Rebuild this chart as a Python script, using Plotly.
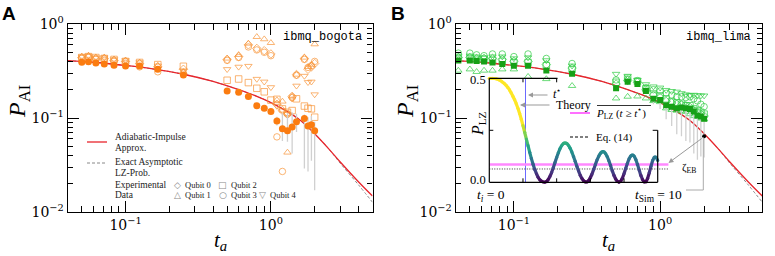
import plotly.graph_objects as go
from plotly.colors import sample_colorscale
import math

W, H = 775, 256

# ---------------- data ----------------
ta_theory = [0.04, 0.06, 0.1, 0.15, 0.25, 0.4, 0.6, 0.8, 1.0, 1.3, 1.6, 2.0, 2.5, 3.0, 4.0, 5.0]
P_AI_theory = [0.407, 0.392, 0.362, 0.335, 0.292, 0.245, 0.200, 0.170, 0.146, 0.117, 0.094, 0.068, 0.047, 0.034, 0.021, 0.0148]
P_LZ_exact = [0.407, 0.392, 0.362, 0.335, 0.292, 0.245, 0.200, 0.170, 0.146, 0.117, 0.094, 0.068, 0.047, 0.033, 0.0195, 0.0127]

ta_A = [0.05, 0.0556, 0.0625, 0.0714, 0.0833, 0.1, 0.125, 0.1667, 0.25,
        0.5, 0.6, 0.7, 0.8, 0.9, 1.0, 1.1, 1.2, 1.3, 1.4, 1.5, 1.7, 1.8, 1.9, 2.0]
A_mean = [0.391, 0.397, 0.385, 0.375, 0.363, 0.357, 0.357, 0.330, 0.287,
          0.194, 0.188, 0.169, 0.135, 0.127, 0.117, 0.093, 0.077, 0.073, 0.080, 0.091, 0.099, 0.082, 0.085, 0.073]
A_err_up = [0, 0, 0, 0, 0, 0, 0, 0, 0,
            0, 0, 0, 0, 0, 0, 0.01, 0.035, 0.04, 0.035, 0.02, 0.01, 0.02, 0.02, 0.018]
A_err_dn = [0, 0, 0, 0, 0, 0, 0, 0, 0,
            0, 0, 0, 0, 0, 0, 0.01, 0.02, 0.017, 0.038, 0.02, 0.07, 0.055, 0.05, 0.056]
A_q0 = [0.44, 0.45, 0.43, 0.43, 0.41, 0.40, 0.38, 0.35, 0.33,
        0.42, 0.45, 0.60, 0.55, 0.52, 0.48, 0.14, 0.12, 0.11, 0.17, 0.29, 0.43, 0.33, 0.35, 0.38]
A_q1 = [0.45, 0.46, 0.44, 0.44, 0.42, 0.41, 0.39, 0.36, 0.31,
        0.43, 0.47, 0.62, 0.73, 0.69, 0.63, 0.155, 0.15, 0.043, 0.17, 0.29, 0.44, 0.35, 0.37, 0.61]
A_q2 = [0.44, 0.45, 0.44, 0.43, 0.42, 0.40, 0.39, 0.37, 0.355,
        0.252, 0.26, 0.238, 0.207, 0.19, 0.155, 0.158, 0.125, 0.115, 0.12, 0.16, 0.134, 0.127, 0.125, 0.102]
A_q3 = [0.43, 0.44, 0.42, 0.41, 0.40, 0.38, 0.35, 0.31, 0.30,
        0.41, 0.44, 0.57, 0.53, 0.50, 0.46, 0.063, 0.027, 0.11, 0.165, 0.285, 0.42, 0.345, 0.36, 0.40]
A_q4 = [0.45, 0.46, 0.44, 0.44, 0.42, 0.41, 0.39, 0.36, 0.32,
        0.33, 0.35, 0.357, 0.26, 0.243, 0.212, 0.134, 0.12, 0.11, 0.16, 0.22, 0.28, 0.24, 0.243, 0.178]

ta_B = [0.0417, 0.05, 0.0556, 0.0625, 0.0714, 0.0833, 0.1, 0.125, 0.1667, 0.25,
        0.5, 0.6, 0.7, 0.8, 0.9, 1.0, 1.1, 1.2, 1.3, 1.4, 1.5, 1.6, 1.7, 1.8, 1.9, 2.0]
B_mean = [0.41, 0.41, 0.405, 0.40, 0.39, 0.375, 0.36, 0.36, 0.32, 0.295,
          0.207, 0.243, 0.23, 0.194, 0.16, 0.155, 0.137, 0.132, 0.127, 0.129, 0.127, 0.125, 0.117, 0.106, 0.104, 0.098]
B_err_up = [0, 0, 0, 0, 0, 0, 0, 0, 0, 0,
            0, 0, 0, 0, 0.01, 0.01, 0.01, 0.01, 0.01, 0.01, 0.01, 0.01, 0.01, 0.01, 0.01, 0.01]
B_err_dn = [0, 0, 0, 0, 0, 0, 0, 0, 0, 0,
            0, 0, 0, 0, 0.02, 0.03, 0.04, 0.05, 0.06, 0.065, 0.07, 0.07, 0.075, 0.07, 0.065, 0.06]
B_q0 = [0.44, 0.44, 0.43, 0.43, 0.43, 0.42, 0.40, 0.40, 0.37, 0.34,
        0.23, 0.25, 0.24, 0.2, 0.175, 0.165, 0.15, 0.145, 0.14, 0.138, 0.135, 0.13, 0.12, 0.115, 0.11, 0.105]
B_q1 = [0.32, 0.33, 0.31, 0.32, 0.32, 0.33, 0.33, 0.275, 0.26, 0.22,
        0.162, 0.169, 0.17, 0.162, 0.152, 0.148, 0.127, 0.122, 0.12, 0.118, 0.117, 0.11, 0.105, 0.103, 0.099, 0.097]
B_q2 = [0.43, 0.43, 0.42, 0.42, 0.41, 0.40, 0.39, 0.39, 0.36, 0.33,
        0.24, 0.265, 0.245, 0.205, 0.18, 0.172, 0.16, 0.15, 0.145, 0.14, 0.135, 0.135, 0.125, 0.12, 0.115, 0.11]
B_q3 = [0.49, 0.49, 0.47, 0.46, 0.48, 0.48, 0.45, 0.48, 0.43, 0.38,
        0.254, 0.258, 0.25, 0.21, 0.2, 0.194, 0.183, 0.175, 0.168, 0.168, 0.165, 0.168, 0.16, 0.152, 0.14, 0.132]
B_q4 = [0.46, 0.46, 0.45, 0.44, 0.45, 0.45, 0.43, 0.44, 0.41, 0.36,
        0.294, 0.28, 0.254, 0.228, 0.216, 0.21, 0.198, 0.193, 0.19, 0.183, 0.178, 0.175, 0.176, 0.174, 0.173, 0.173]

marked_ta = [2.0]
marked_P = [0.064]

# inset: simulated LZ probability vs time
t_sim = [0.0, 0.1, 0.2, 0.3, 0.4, 0.5, 0.6, 0.7, 0.8, 0.9,
         1.0, 1.1, 1.2, 1.3, 1.4, 1.5, 1.6, 1.7, 1.8, 1.9,
         2.0, 2.1, 2.2, 2.3, 2.4, 2.5, 2.6, 2.7, 2.8, 2.9,
         3.0, 3.1, 3.2, 3.3, 3.4, 3.5, 3.6, 3.7, 3.8, 3.9,
         4.0, 4.1, 4.2, 4.3, 4.4, 4.5, 4.6, 4.7, 4.8, 4.9,
         5.0, 5.1, 5.2, 5.3, 5.4, 5.5, 5.6, 5.7, 5.8, 5.9,
         6.0, 6.1, 6.2, 6.3, 6.4, 6.5, 6.6, 6.7, 6.8, 6.9,
         7.0, 7.1, 7.2, 7.3, 7.4, 7.5, 7.6, 7.7, 7.8, 7.9,
         8.0, 8.1, 8.2, 8.3, 8.4, 8.5, 8.6, 8.7, 8.8, 8.9,
         9.0, 9.1, 9.2, 9.3, 9.4, 9.5, 9.6, 9.7, 9.8, 9.9, 10.0]
P_sim = [0.500, 0.500, 0.500, 0.499, 0.498, 0.496, 0.492, 0.487, 0.481, 0.474,
         0.466, 0.456, 0.444, 0.430, 0.414, 0.397, 0.378, 0.356, 0.331, 0.303,
         0.273, 0.241, 0.208, 0.176, 0.144, 0.114, 0.087, 0.062, 0.041, 0.024,
         0.012, 0.005, 0.001, 0.000, 0.003, 0.013, 0.028, 0.047, 0.070, 0.095,
         0.119, 0.142, 0.162, 0.177, 0.187, 0.190, 0.187, 0.178, 0.164, 0.146,
         0.124, 0.101, 0.077, 0.055, 0.034, 0.018, 0.007, 0.001, 0.001, 0.008,
         0.022, 0.040, 0.062, 0.086, 0.108, 0.126, 0.140, 0.147, 0.147, 0.139,
         0.124, 0.104, 0.081, 0.056, 0.034, 0.016, 0.004, 0.000, 0.005, 0.019,
         0.041, 0.066, 0.091, 0.113, 0.127, 0.132, 0.126, 0.110, 0.086, 0.059,
         0.033, 0.013, 0.001, 0.002, 0.018, 0.046, 0.077, 0.105, 0.121, 0.121, 0.105]
t_star = 2.15
P_mean_after_tstar = 0.085
P_eq14 = 0.064
t_line_end = 10.65

# ---------------- helpers (layout positions in pixels) ----------------
def px(x):
    return x / W

def py(y):
    return 1 - y / H

ORANGE = "#fb7c10"
ORANGE_L = "rgba(248,150,60,0.8)"
GREEN = "#16a016"
GREEN_L = "rgba(50,205,70,0.8)"
RED = "#e8252c"
SERIF = "Liberation Serif"
TICKF = "DejaVu Serif"

fig = go.Figure()

def add_panel(xa, ya, ta, mean, eu, ed, qs, c_fill, c_light, fill_symbol):
    fig.add_trace(go.Scatter(x=ta_theory, y=P_LZ_exact, mode="lines",
                             line=dict(color="#888", width=1, dash="3px,2px", shape="spline"),
                             xaxis=xa, yaxis=ya, showlegend=False))
    fig.add_trace(go.Scatter(x=ta_theory, y=P_AI_theory, mode="lines", line=dict(color=RED, width=1.3, shape="spline"),
                             xaxis=xa, yaxis=ya, showlegend=False))
    symbols = ["diamond-open", "triangle-up-open", "square-open", "circle-open", "triangle-down-open"]
    for q, s in zip(qs, symbols):
        fig.add_trace(go.Scatter(x=ta, y=q, mode="markers",
                                 marker=dict(symbol=s, size=6.5, color=c_light, line=dict(width=0.9, color=c_light)),
                                 xaxis=xa, yaxis=ya, showlegend=False))
    fig.add_trace(go.Scatter(x=ta, y=mean, mode="markers",
                             marker=dict(symbol=fill_symbol, size=7 if fill_symbol == "circle" else 6, color=c_fill),
                             error_y=dict(type="data", array=eu, arrayminus=ed, color="#d0d0d0", thickness=1.3, width=0),
                             xaxis=xa, yaxis=ya, showlegend=False))

add_panel("x", "y", ta_A, A_mean, A_err_up, A_err_dn, [A_q0, A_q1, A_q2, A_q3, A_q4], ORANGE, ORANGE_L, "circle")

# inset traces (x2/y2)
fig.add_trace(go.Scatter(x=[t_star, t_star], y=[0, 0.5], mode="lines", line=dict(color="#6a6aff", width=1),
                         xaxis="x2", yaxis="y2", showlegend=False))
fig.add_trace(go.Scatter(x=[0, t_line_end], y=[P_mean_after_tstar, P_mean_after_tstar], mode="lines",
                         line=dict(color="#ff88ff", width=2.5), xaxis="x2", yaxis="y2", showlegend=False))
fig.add_trace(go.Scatter(x=[0, t_line_end], y=[P_eq14, P_eq14], mode="lines",
                         line=dict(color="#333", width=1, dash="1px,1.5px"), xaxis="x2", yaxis="y2", showlegend=False))
cols = sample_colorscale("Viridis", [min(max(v / 0.3, 0), 1) for v in P_sim])
for i in range(len(t_sim) - 1):
    fig.add_trace(go.Scatter(x=t_sim[i:i + 2], y=P_sim[i:i + 2], mode="lines", cliponaxis=False,
                             line=dict(color=cols[i], width=3.2),
                             xaxis="x2", yaxis="y2", showlegend=False, hoverinfo="skip"))
fig.add_trace(go.Scatter(x=t_sim, y=P_sim, mode="markers", cliponaxis=False,
                         marker=dict(size=3.2, color=cols, line=dict(width=0)),
                         xaxis="x2", yaxis="y2", showlegend=False))

add_panel("x3", "y3", ta_B, B_mean, B_err_up, B_err_dn, [B_q0, B_q1, B_q2, B_q3, B_q4], GREEN, GREEN_L, "square")
fig.add_trace(go.Scatter(x=marked_ta, y=marked_P, mode="markers", marker=dict(size=4, color="black"),
                         xaxis="x3", yaxis="y3", showlegend=False))

# ---------------- axes ----------------
minor_x = [0.04, 0.05, 0.06, 0.07, 0.08, 0.09, 0.2, 0.3, 0.4, 0.5, 0.6, 0.7, 0.8, 0.9, 2, 3, 4, 5]
minor_y = [0.02, 0.03, 0.04, 0.05, 0.06, 0.07, 0.08, 0.09, 0.2, 0.3, 0.4, 0.5, 0.6, 0.7, 0.8, 0.9]

def main_x(domain, anchor):
    return dict(type="log", range=[math.log10(0.04), math.log10(5)], domain=domain, anchor=anchor,
                showline=True, linecolor="black", linewidth=1.3, mirror="allticks",
                ticks="inside", ticklen=11, tickwidth=1.1, tickcolor="black",
                tickvals=[0.1, 1], ticktext=["10<sup>\u22121</sup>", "10<sup>0</sup>"],
                tickfont=dict(family=TICKF, size=14, color="black"),
                minor=dict(ticks="inside", ticklen=5.5, tickwidth=1, tickcolor="black", tickvals=minor_x, showgrid=False),
                showgrid=False, zeroline=False, automargin=False)

def main_y(domain, anchor):
    return dict(type="log", range=[-2, 0], domain=domain, anchor=anchor,
                showline=True, linecolor="black", linewidth=1.3, mirror="allticks",
                ticks="inside", ticklen=11, tickwidth=1.1, tickcolor="black",
                tickvals=[0.01, 0.1, 1], ticktext=["10<sup>\u22122</sup>", "10<sup>\u22121</sup>", "10<sup>0</sup>"],
                tickfont=dict(family=TICKF, size=14, color="black"),
                minor=dict(ticks="inside", ticklen=5.5, tickwidth=1, tickcolor="black", tickvals=minor_y, showgrid=False),
                showgrid=False, zeroline=False, automargin=False)

ydom = [py(212), py(24)]
IX0, IX1, IY0, IY1 = 489.3, 657.7, 78.3, 182.3   # inset frame (pixels)
ix_end = IX0 + (IX1 - IX0) * t_line_end / 10

fig.update_layout(
    width=W, height=H, margin=dict(l=0, r=0, t=0, b=0, autoexpand=False),
    paper_bgcolor="white", plot_bgcolor="rgba(0,0,0,0)",
    xaxis=main_x([px(67.7), px(372.5)], "y"),
    yaxis=main_y(ydom, "x"),
    xaxis3=main_x([px(455.7), px(762.3)], "y3"),
    yaxis3=main_y(ydom, "x3"),
    xaxis2=dict(range=[0, t_line_end], domain=[px(IX0), px(ix_end)], anchor="y2", automargin=False,
                showline=False, showgrid=False, zeroline=False, ticks="", showticklabels=False),
    yaxis2=dict(range=[0, 0.5], domain=[py(IY1), py(IY0)], anchor="x2", automargin=False,
                showline=False, showgrid=False, zeroline=False, ticks="", showticklabels=False),
)

shapes = []
def line(x0, y0, x1, y1, color="black", width=1, dash=None):
    d = dict(type="line", xref="paper", yref="paper", x0=px(x0), y0=py(y0), x1=px(x1), y1=py(y1),
             line=dict(color=color, width=width))
    if dash:
        d["line"]["dash"] = dash
    shapes.append(d)

# inset frame (top-right part hidden behind its legend)
line(IX0, IY0, IX0, IY1, width=1.2)
line(IX0, IY1, IX1, IY1, width=1.2)
line(IX0, IY0, 557.5, IY0, width=1.2)
line(IX1, 130.3, IX1, IY1, width=1.2)
for tv in [2, 4, 6, 8]:
    xx = IX0 + (IX1 - IX0) * tv / 10
    line(xx, IY1, xx, IY1 - 4)
for tv in [2, 4]:
    xx = IX0 + (IX1 - IX0) * tv / 10
    line(xx, IY0, xx, IY0 + 4)
ymid = (IY0 + IY1) / 2
line(IX0, ymid, IX0 + 4, ymid)
line(IX1, ymid, IX1 - 5, ymid)

# panel A legend samples
line(87, 142, 107, 142, color=RED, width=1.3)
line(87, 163, 107, 163, color="#888", width=1, dash="3px,2px")
# inset legend samples
line(570, 113, 590, 113, color="#ff40ff", width=1.5)
line(570, 137, 590, 137, color="black", width=1.2, dash="3px,2px")
line(597, 105.5, 651, 105.5, color="black", width=0.8)   # overline
# zeta_EB / t_Sim connector lines
line(703.3, 137.3, 703.3, 190, color="#aaa", width=1)
line(703.3, 190, 686, 190, color="#aaa", width=1)

annos = []
def text(x, y, s, size=10, xanchor="left", color="#222", family=SERIF, angle=0, yanchor="middle"):
    annos.append(dict(x=px(x), y=py(y), xref="paper", yref="paper", text=s, showarrow=False,
                      xanchor=xanchor, yanchor=yanchor, textangle=angle,
                      font=dict(family=family, size=size, color=color)))

text(0, 1, "<b>A</b>", size=19, family="Liberation Sans", color="black", yanchor="top")
text(389, 1, "<b>B</b>", size=19, family="Liberation Sans", color="black", yanchor="top")
text(19, 102, "<i>P</i><sub>AI</sub>", size=24, xanchor="center", color="black", angle=-90)
text(407, 102, "<i>P</i><sub>AI</sub>", size=24, xanchor="center", color="black", angle=-90)
text(220, 256, "<i>t</i><sub><i>a</i></sub>", size=21, xanchor="center", color="black", yanchor="bottom")
text(608, 256, "<i>t</i><sub><i>a</i></sub>", size=21, xanchor="center", color="black", yanchor="bottom")
text(364, 37, "ibmq_bogota", size=12, xanchor="right", color="black", family="Liberation Mono")
text(753, 37, "ibmq_lima", size=12, xanchor="right", color="black", family="Liberation Mono")

# legend A
text(113, 137, "Adiabatic-Impulse", size=9.5)
text(113, 147.5, "Approx.", size=9.5)
text(113, 162, "Exact Asymptotic", size=9.5)
text(113, 172.5, "LZ-Prob.", size=9.5)
text(113, 184.5, "Experimental", size=9.5)
text(113, 195, "Data", size=9.5)
for (gx, gy, glyph, lab) in [(177, 184.5, "\u25c7", "Qubit 0"), (223, 184.5, "\u25a1", "Qubit 2"),
                             (177, 194.5, "\u25b3", "Qubit 1"), (223, 194.5, "\u25cb", "Qubit 3"),
                             (262, 194.5, "\u25bd", "Qubit 4")]:
    text(gx, gy, glyph, size=9, xanchor="center", color="#888", family="DejaVu Sans")
    text(gx + 5.5, gy, lab, size=8.5)

# inset texts (axis labels)
text(478, 124, "<i>P</i><sub>LZ</sub>", size=16, xanchor="center", color="black", angle=-90)
text(487.5, 79.5, "0.5", size=12.5, xanchor="right", color="black")
text(487.5, 179.5, "0.0", size=12.5, xanchor="right", color="black")
text(491, 195, "<i>t</i><sub><i>i</i></sub> = 0", size=13.5, xanchor="center", color="black")
text(658, 195, "<i>t</i><sub>Sim</sub> = 10", size=13.5, xanchor="center", color="black")
# inset legend / annotations
text(594, 113, "<i>P</i><sub>LZ</sub> (<i>t</i> \u2265 <i>t</i><sup>\u22c6</sup>)", size=11, color="black")
text(594, 137, "Eq. (14)", size=11, color="black")
text(680, 168, "\u03b6<sub>EB</sub>", size=11, color="black")
text(551, 93, "<i>t</i><sup>\u22c6</sup>", size=12, color="black")
text(554, 105, "Theory", size=12, color="black")

# arrows (no text)
def arrow(tipx, tipy, tailx, taily):
    annos.append(dict(x=px(tipx), y=py(tipy), xref="paper", yref="paper", text="",
                      ax=tailx - tipx, ay=taily - tipy, axref="pixel", ayref="pixel",
                      showarrow=True, arrowhead=2, arrowsize=1, arrowwidth=1, arrowcolor="#999"))

arrow(528, 95, 549, 95)
arrow(520, 105, 551, 105)
arrow(668.5, 163, 703.3, 137.3)

fig.update_layout(shapes=shapes, annotations=annos)
fig.write_html("out.html", config={"displayModeBar": False},
               post_script="document.body.style.margin='0px';")
